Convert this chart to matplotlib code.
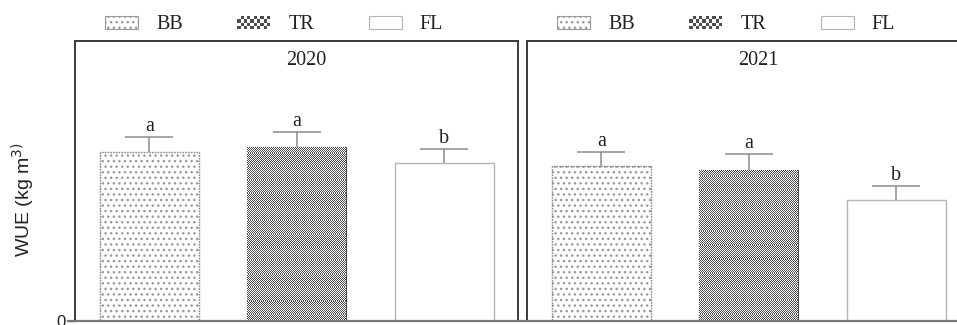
import numpy as np
import matplotlib
matplotlib.use("Agg")
import matplotlib.pyplot as plt
from matplotlib.patches import Rectangle, Patch
from matplotlib.lines import Line2D
from matplotlib.legend_handler import HandlerBase

# data (arbitrary units, no y ticks besides 0)
treatments = ["BB", "TR", "FL"]
years = ["2020", "2021"]
wue_2020 = [1.69, 1.74, 1.58]
err_2020 = [0.15, 0.15, 0.14]
wue_2021 = [1.55, 1.51, 1.21]
err_2021 = [0.14, 0.16, 0.14]
letters_2020 = ["a", "a", "b"]
letters_2021 = ["a", "a", "b"]

DPI = 100
SERIF = "Liberation Serif"
SANS = "Liberation Sans"
CHECK_DARK = "#4d4d4d"
DOT_COL = "#9a9a9a"
FS = 14.5


def checker(nrows, ncols):
    i, j = np.indices((nrows, ncols))
    return ((i + j) % 2).astype(float)


class CheckerHandler(HandlerBase):
    def create_artists(self, legend, orig_handle, xdescent, ydescent,
                       width, height, fontsize, trans):
        cell = 3.3 * 72 / DPI
        arts = [Rectangle((-xdescent, -ydescent), width, height,
                          facecolor="white", edgecolor="none", transform=trans)]
        nx = int(width // cell)
        ny = int(height // cell)
        for a in range(nx):
            for b in range(ny):
                if (a + b) % 2 == 0:
                    arts.append(Rectangle((-xdescent + a * cell, -ydescent + b * cell),
                                          cell, cell, facecolor=CHECK_DARK,
                                          edgecolor="none", transform=trans))
        return arts


def draw_panel(ax, values, errs, letters, year):
    x = np.arange(len(values))
    w = 0.671
    # error bars sit behind the bars so only the upper half shows
    ax.errorbar(x, values, yerr=errs, fmt="none",
                ecolor="#8c8c8c", elinewidth=1.1, capsize=17.3, capthick=1.1,
                zorder=1.5)
    # BB dotted
    ax.bar(x[0], values[0], w, color="white", edgecolor=DOT_COL, hatch="...",
           linewidth=0, zorder=2)
    ax.bar(x[0], values[0], w, fill=False, edgecolor="#8a8a8a", linewidth=1.0,
           linestyle=(0, (1.2, 0.8)), zorder=3)
    # TR checker
    tr = ax.bar(x[1], values[1], w, color="white", edgecolor=CHECK_DARK,
                linewidth=0.8, zorder=2)[0]
    x0, x1 = tr.get_x(), tr.get_x() + tr.get_width()
    p0 = ax.transData.transform((x0, 0))
    p1 = ax.transData.transform((x1, tr.get_height()))
    ncols = int(round((p1[0] - p0[0]) / 3.0))
    nrows = int(round((p1[1] - p0[1]) / 3.0))
    img = ax.imshow(checker(nrows, ncols),
                    cmap=matplotlib.colors.ListedColormap(["white", CHECK_DARK]),
                    extent=(x0, x1, 0, tr.get_height()), aspect="auto",
                    interpolation="nearest", zorder=2.5)
    img.set_clip_path(tr)
    # FL open
    ax.bar(x[2], values[2], w, color="white", edgecolor="#b5b5b5",
           linewidth=1.0, zorder=3)

    for xi, v, e, l in zip(x, values, errs, letters):
        ax.text(xi, v + e + 0.06, l, ha="center", va="baseline",
                fontsize=FS, family=SERIF, color="#222222")

    ax.text(0.522, 0.932, year, transform=ax.transAxes, ha="center",
            va="center", fontsize=FS, family=SERIF, color="#222222")

    ax.set_xlim(-0.505, 2.5)
    ax.set_ylim(0, 2.80)
    ax.set_xticks([])
    for s in ["left", "top", "right"]:
        ax.spines[s].set_color("#3a3a3a")
        ax.spines[s].set_linewidth(1.4)
    ax.spines["bottom"].set_visible(False)

    handles = [Patch(facecolor="white", edgecolor=DOT_COL, hatch="...", linewidth=0.8),
               Patch(facecolor="white", edgecolor=CHECK_DARK),
               Patch(facecolor="white", edgecolor="#b5b5b5", linewidth=0.8)]
    leg = ax.legend(handles, treatments, ncol=3, loc="center left",
                    bbox_to_anchor=(30 / 443, 1 + 16 / 280), frameon=False,
                    borderpad=0, borderaxespad=0, handlelength=1.64,
                    handleheight=0.65, handletextpad=0.9, columnspacing=2.7,
                    prop={"family": SERIF, "size": FS},
                    handler_map={handles[1]: CheckerHandler()})
    for t in leg.get_texts():
        t.set_color("#222222")


fig = plt.figure(figsize=(9.57, 3.25), dpi=DPI)
ax1 = fig.add_axes([75 / 957, 4 / 325, 443 / 957, 280 / 325])
ax2 = fig.add_axes([527 / 957, 4 / 325, 443 / 957, 280 / 325])

draw_panel(ax1, wue_2020, err_2020, letters_2020, years[0])
draw_panel(ax2, wue_2021, err_2021, letters_2021, years[1])

ax1.set_yticks([0])
ax1.tick_params(axis="y", length=5, width=1.0, color="#777777", pad=2,
                labelsize=12, labelcolor="#222222")
for lab in ax1.get_yticklabels():
    lab.set_family(SANS)
ax2.set_yticks([])
ax2.spines["right"].set_visible(False)

ax1.set_ylabel("WUE (kg m$^{3)}$", family=SANS, fontsize=14, color="#222222")
ax1.yaxis.set_label_coords(-0.086, 0.432)

# baseline across both panels
y0 = 4 / 325
fig.add_artist(Line2D([68 / 957, 1.0], [y0, y0], transform=fig.transFigure,
                      color="#777777", linewidth=1.6))

fig.savefig("out.png", dpi=DPI)
